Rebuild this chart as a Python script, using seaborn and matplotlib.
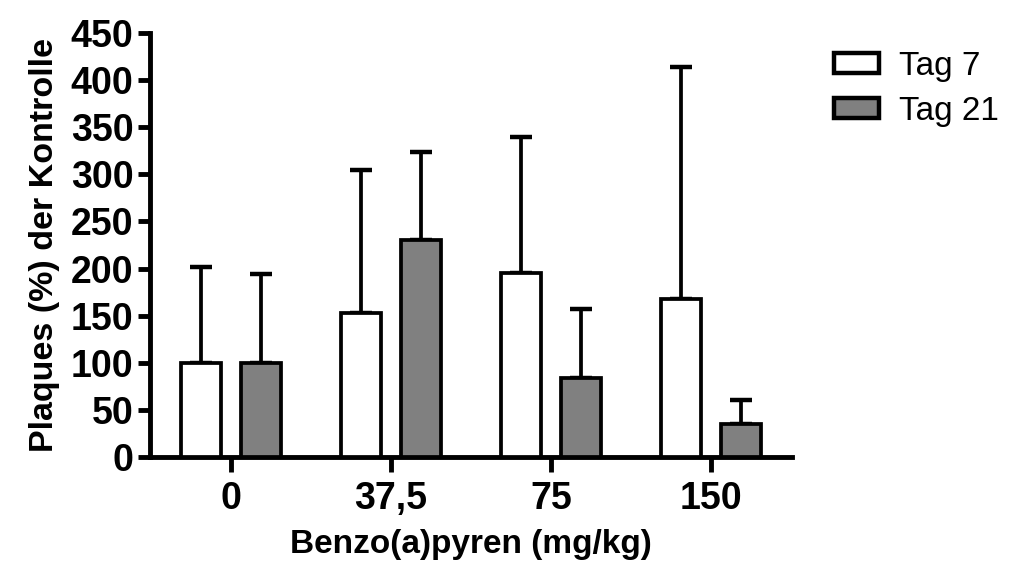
import pandas as pd
import numpy as np
import seaborn as sns
import matplotlib.pyplot as plt

# data
doses = ['0', '37,5', '75', '150']
tags = ['Tag 7', 'Tag 21']
tag7_mean = [100, 153, 195, 168]
tag7_err = [102, 152, 145, 246]
tag21_mean = [100, 230, 84, 35]
tag21_err = [94, 94, 73, 25]

df = pd.DataFrame({
    'dose': doses * 2,
    'tag': [tags[0]] * 4 + [tags[1]] * 4,
    'value': tag7_mean + tag21_mean,
})
errs = {tags[0]: tag7_err, tags[1]: tag21_err}

sns.set_style('ticks', {'axes.edgecolor': 'black', 'text.color': 'black',
                        'xtick.color': 'black', 'ytick.color': 'black',
                        'axes.labelcolor': 'black'})
plt.rcParams['font.family'] = ['Liberation Sans', 'DejaVu Sans']

fig = plt.figure(figsize=(10.09, 5.66), dpi=100)
ax = fig.add_axes([0.1487, 0.1926, 0.6363, 0.7491])

sns.barplot(data=df, x='dose', y='value', hue='tag', order=doses, hue_order=tags,
            palette={'Tag 7': 'white', 'Tag 21': '#808080'}, edgecolor='black',
            linewidth=2.7, width=0.75, gap=1/3, errorbar=None, ax=ax, zorder=3)

# one-sided error bars (upper only)
for cont, t in zip(ax.containers, tags):
    xs = [b.get_x() + b.get_width() / 2 for b in cont]
    ys = [b.get_height() for b in cont]
    ax.errorbar(xs, ys, yerr=[np.zeros(len(ys)), errs[t]], fmt='none',
                ecolor='black', elinewidth=2.7, capsize=8, capthick=3.2, zorder=2)

ax.set_xlim(-0.506, 3.506)
ax.set_ylim(0, 450)
ax.set_yticks(range(0, 451, 50))
sns.despine(ax=ax)
for s in ['left', 'bottom']:
    ax.spines[s].set_linewidth(3.5)
ax.tick_params(width=3.5, length=9, labelsize=27, pad=3, colors='black')
ax.tick_params(axis='x', length=11, pad=6)
for lab in ax.get_xticklabels() + ax.get_yticklabels():
    lab.set_fontweight('bold')

ax.set_xlabel('Benzo(a)pyren (mg/kg)', fontsize=24, fontweight='bold', labelpad=9)
ax.set_ylabel('Plaques (%) der Kontrolle', fontsize=24.5, fontweight='bold', labelpad=8)

ax.legend_.remove()
handles = [plt.Rectangle((0, 0), 1, 1, facecolor=c, edgecolor='black', linewidth=3.2)
           for c in ['white', '#808080']]
fig.legend(handles, tags, loc='upper left', bbox_to_anchor=(0.827, 0.91),
           frameon=False, fontsize=24, handlelength=1.35, handleheight=0.55,
           handletextpad=0.6, labelspacing=0.42, borderaxespad=0, borderpad=0)

fig.savefig('out.png', dpi=100)
